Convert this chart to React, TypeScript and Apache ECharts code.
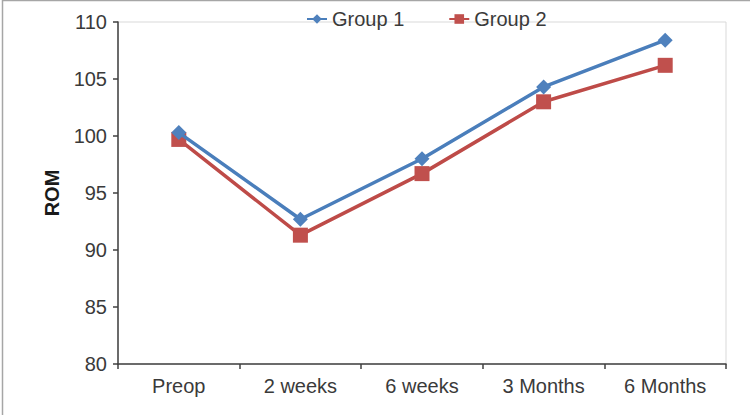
import React, { useEffect, useRef } from "react";
import * as echarts from "echarts";

const categories = ["Preop", "2 weeks", "6 weeks", "3 Months", "6 Months"];
const group1 = [100.3, 92.7, 98.0, 104.3, 108.4];
const group2 = [99.7, 91.3, 96.7, 103.0, 106.2];
const seriesNames = ["Group 1", "Group 2"];
const yAxisName = "ROM";

export default function App() {
  const ref = useRef<HTMLDivElement>(null);
  useEffect(() => {
    document.body.style.margin = "0";
    const chart = echarts.init(ref.current!, null, { renderer: "svg" });
    const font = "'Liberation Sans', Arial, sans-serif";
    chart.setOption({
      animation: false,
      backgroundColor: "#ffffff",
      textStyle: { fontFamily: font },
      graphic: [
        {
          type: "rect",
          shape: { x: 2.5, y: 0.5, width: 800, height: 500 },
          style: { fill: "none", stroke: "#a6a6a6", lineWidth: 1.5 },
          silent: true,
        },
      ],
      legend: {
        left: 301,
        top: 4,
        itemWidth: 20,
        itemHeight: 12,
        itemGap: 44,
        textStyle: { fontSize: 20, color: "#3a3a3a", fontFamily: font },
        data: seriesNames,
      },
      grid: {
        left: 118,
        right: 24,
        top: 22,
        bottom: 51,
        show: true,
        borderColor: "#d9d9d9",
        borderWidth: 1,
      },
      xAxis: {
        type: "category",
        data: categories,
        boundaryGap: true,
        axisLine: { show: true, lineStyle: { color: "#404040", width: 1.5 } },
        axisTick: { show: true, inside: false, length: 5, alignWithLabel: false, lineStyle: { color: "#404040", width: 1.5 } },
        axisLabel: { fontSize: 20, color: "#3a3a3a", margin: 12, fontFamily: font },
        splitLine: { show: false },
      },
      yAxis: {
        type: "value",
        min: 80,
        max: 110,
        interval: 5,
        name: yAxisName,
        nameLocation: "middle",
        nameGap: 56,
        nameTextStyle: { fontSize: 20, fontWeight: "bold", color: "#1a1a1a", fontFamily: font },
        axisLine: { show: true, lineStyle: { color: "#404040", width: 1.5 } },
        axisTick: { show: true, inside: false, length: 5, lineStyle: { color: "#404040", width: 1.5 } },
        axisLabel: { fontSize: 20, color: "#3a3a3a", margin: 11, fontFamily: font },
        splitLine: { show: false },
      },
      series: [
        {
          name: seriesNames[0],
          type: "line",
          data: group1,
          symbol: "diamond",
          symbolSize: 15,
          lineStyle: { color: "#4A7EBB", width: 3.5 },
          itemStyle: { color: "#4F81BD" },
          z: 3,
        },
        {
          name: seriesNames[1],
          type: "line",
          data: group2,
          symbol: "rect",
          symbolSize: 15,
          lineStyle: { color: "#BE4B48", width: 3.5 },
          itemStyle: { color: "#C0504D" },
          z: 2,
        },
      ],
    });
    return () => chart.dispose();
  }, []);
  return <div ref={ref} style={{ width: 750, height: 415 }} />;
}
